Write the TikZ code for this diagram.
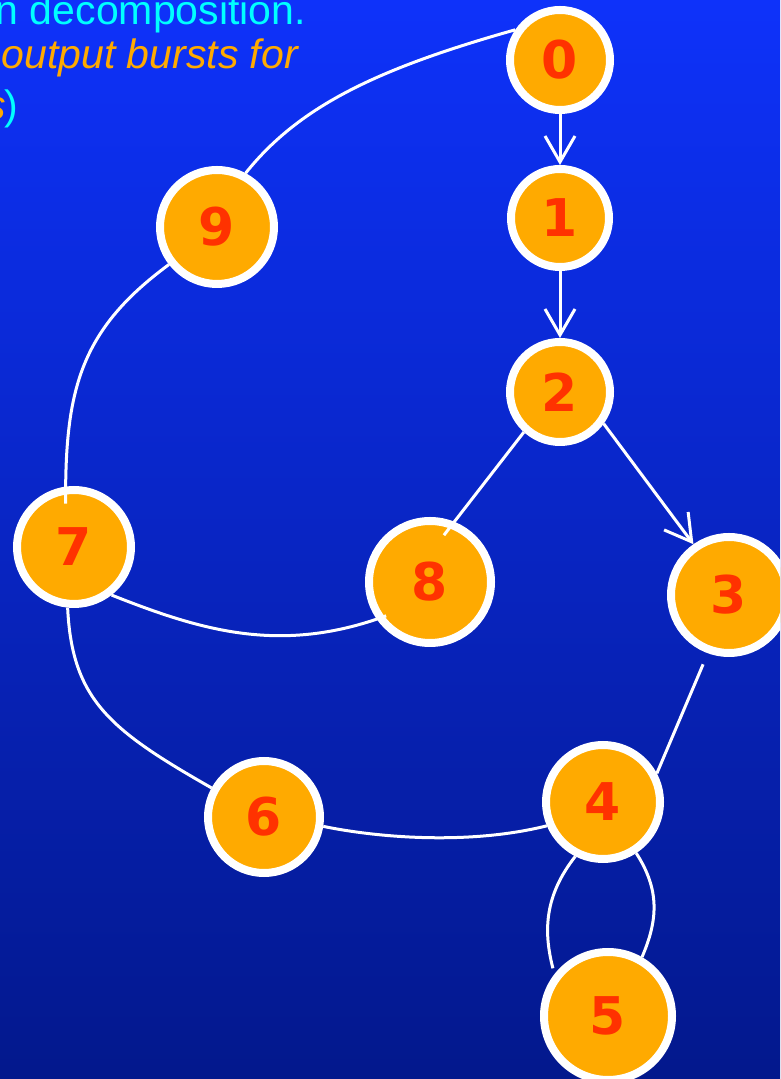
\documentclass[tikz,border=0pt]{standalone}
\usepackage{fontspec}
\setmainfont{Liberation Sans}
\newfontfamily\numfont{DejaVu Sans}
\usetikzlibrary{arrows.meta}
\definecolor{bgtop}{RGB}{14,50,250}
\definecolor{bgbot}{RGB}{3,24,140}
\definecolor{nodeorange}{RGB}{255,170,0}
\definecolor{numred}{RGB}{255,50,0}
\definecolor{txtcyan}{RGB}{0,255,255}
\tikzset{
  vtx/.style={circle, draw=white, line width=8pt, fill=nodeorange, inner sep=0pt,
    text=numred, font=\numfont\bfseries\fontsize{52}{52}\selectfont},
  edge/.style={draw=white, line width=3pt},
  arr/.style={edge, -{Straight Barb[length=26pt,width=30pt,line width=3pt]}},
  txt/.style={anchor=base east, inner sep=0pt, font=\fontsize{41}{41}\selectfont}
}
\begin{document}
\begin{tikzpicture}[x=1pt,y=1pt]
\useasboundingbox (0,0) rectangle (780,1079);
\clip (0,0) rectangle (780,1079);
\shade[top color=bgtop, bottom color=bgbot] (0,0) rectangle (780,1079);

% text
\node[txt, text=txtcyan] (t1) at (306,1054) {n decomposition.};
\node[txt, text=nodeorange] (t2) at (298,1010) {\itshape output bursts for};
\node[txt] (t3) at (18,959) {\textcolor{nodeorange}{\itshape s}\kern-2pt\textcolor{txtcyan}{)}};

% nodes
\node[vtx, minimum size=100pt] (n0) at (560,1019) {0};
\node[vtx, minimum size=98pt]  (n1) at (560,861) {1};
\node[vtx, minimum size=100pt] (n2) at (560,687) {2};
\node[vtx, minimum size=116pt] (n3) at (729,484) {3};
\node[vtx, minimum size=114pt] (n4) at (603,277) {4};
\node[vtx, minimum size=128pt] (n5) at (608,63) {5};
\node[vtx, minimum size=112pt] (n6) at (264,262) {6};
\node[vtx, minimum size=114pt] (n7) at (74,532) {7};
\node[vtx, minimum size=122pt] (n8) at (430,497) {8};
\node[vtx, minimum size=114pt] (n9) at (217,852) {9};

% edges
\draw[arr] (n0.south) -- (n1.north);
\draw[arr] (n1.south) -- (n2.north);
\draw[arr] (n2.-36) -- (n3.125);
\draw[edge] (n0.146) .. controls (380,1011) and (300,974) .. (n9.62);
\draw[edge, shorten >=-17pt] (n9.218) .. controls (80,749) and (65,689) .. (n7.98);
\draw[edge, shorten >=-10pt] (n7.-52) .. controls (200,449) and (280,424) .. (n8.215);
\draw[edge] (n7.264) .. controls (72,379) and (110,349) .. (n6.151);
\draw[edge] (n6.-9) .. controls (380,241) and (470,234) .. (n4.203);
\draw[edge, shorten >=-17pt] (n2.228) -- (n8.68);
\draw[edge, shorten <=12pt] (n3.250) -- (n4.28);
\draw[edge, shorten >=6pt] (n4.243) .. controls (545,184) and (543,149) .. (n5.142);
\draw[edge] (n4.303) .. controls (660,189) and (658,159) .. (n5.60);
\end{tikzpicture}
\end{document}
